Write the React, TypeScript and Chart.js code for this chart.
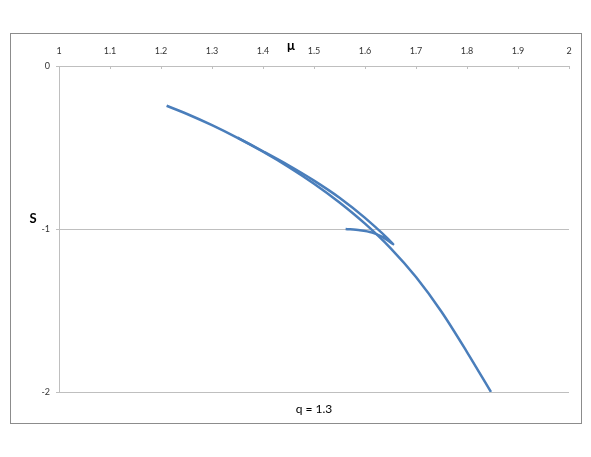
import React, { useEffect, useRef } from 'react';
import { Chart, registerables } from 'chart.js';

Chart.register(...registerables);

// ---- data ----
const muTickValues = [1, 1.1, 1.2, 1.3, 1.4, 1.5, 1.6, 1.7, 1.8, 1.9, 2];
const muTickLabels = ['1', '1.1', '1.2', '1.3', '1.4', '1.5', '1.6', '1.7', '1.8', '1.9', '2'];
const sTickValues = [-2, -1, 0];
const sTickLabels = ['-2', '-1', '0'];

// main branch: from top-left down to S = -2
const mainMu = [1.211, 1.25, 1.3, 1.35, 1.4, 1.45, 1.5, 1.55, 1.6, 1.65, 1.7, 1.75, 1.8, 1.847];
const mainS = [-0.244, -0.293, -0.363, -0.441, -0.526, -0.619, -0.722, -0.837, -0.967, -1.117, -1.295, -1.508, -1.755, -2.0];

// second branch: runs alongside, reaches the cusp and turns back
const loopMu = [1.35, 1.4, 1.45, 1.5, 1.55, 1.6, 1.655, 1.635, 1.614, 1.59, 1.562];
const loopS = [-0.44, -0.523, -0.609, -0.703, -0.808, -0.932, -1.092, -1.05, -1.022, -1.008, -1.0];

const xTitle = 'μ';
const yTitle = 'S';
const caption = 'q = 1.3';

const lineColor = '#4a7ebb';
const gridColor = '#bfbfbf';
const fontFamily = 'Lato, "Open Sans", sans-serif';

const toPoints = (xs: number[], ys: number[]) => xs.map((x, i) => ({ x, y: ys[i] }));

const framePlugin = {
  id: 'frame',
  beforeDraw(chart: any) {
    const ctx = chart.ctx;
    ctx.save();
    ctx.fillStyle = '#ffffff';
    ctx.fillRect(0, 0, chart.width, chart.height);
    ctx.strokeStyle = '#8c8c8c';
    ctx.lineWidth = 1;
    ctx.strokeRect(10.5, 33.5, 571, 390);
    ctx.restore();
  },
  afterDraw(chart: any) {
    const ctx = chart.ctx;
    const xs = chart.scales.x;
    const area = chart.chartArea;
    ctx.save();
    // inward tick marks on the top axis
    ctx.strokeStyle = gridColor;
    ctx.lineWidth = 1;
    muTickValues.forEach((v) => {
      const px = Math.round(xs.getPixelForValue(v)) + 0.5;
      ctx.beginPath();
      ctx.moveTo(px, area.top);
      ctx.lineTo(px, area.top + 3);
      ctx.stroke();
    });
    ctx.fillStyle = '#000000';
    ctx.textAlign = 'center';
    ctx.textBaseline = 'middle';
    ctx.font = `bold 13px ${fontFamily}`;
    ctx.fillText(xTitle, 291, 46);
    ctx.fillText(yTitle, 33, 219);
    ctx.font = `12px ${fontFamily}`;
    ctx.fillText(caption, (area.left + area.right) / 2, 409);
    ctx.restore();
  },
};

export default function App() {
  const ref = useRef<HTMLCanvasElement>(null);

  useEffect(() => {
    if (!ref.current) return;
    const chart = new Chart(ref.current, {
      type: 'scatter',
      data: {
        datasets: [
          {
            data: toPoints(mainMu, mainS),
            showLine: true,
            borderColor: lineColor,
            backgroundColor: lineColor,
            borderWidth: 2.5,
            pointRadius: 0,
            tension: 0.3,
          },
          {
            data: toPoints(loopMu, loopS),
            showLine: true,
            borderColor: lineColor,
            backgroundColor: lineColor,
            borderWidth: 2.5,
            pointRadius: 0,
            tension: 0.3,
          },
        ],
      },
      options: {
        animation: false,
        responsive: false,
        devicePixelRatio: 1,
        layout: { padding: { left: 0, top: 0, right: 22, bottom: 65 } },
        plugins: {
          legend: { display: false },
          tooltip: { enabled: false },
        },
        scales: {
          x: {
            type: 'linear',
            position: 'top',
            min: 1,
            max: 2,
            afterBuildTicks: (scale: any) => {
              scale.ticks = muTickValues.map((value) => ({ value }));
            },
            afterFit: (scale: any) => {
              scale.height = 66;
              scale.paddingLeft = 0;
              scale.paddingRight = 0;
            },
            ticks: {
              padding: 10,
              color: '#333333',
              font: { family: fontFamily, size: 9 },
              maxRotation: 0,
              autoSkip: false,
              callback: (v: any) => {
                const i = muTickValues.findIndex((t) => Math.abs(t - Number(v)) < 1e-9);
                return i >= 0 ? muTickLabels[i] : '';
              },
            },
            grid: { drawOnChartArea: false, drawTicks: false },
            border: { display: true, color: gridColor },
          },
          y: {
            type: 'linear',
            min: -2,
            max: 0,
            afterBuildTicks: (scale: any) => {
              scale.ticks = sTickValues.map((value) => ({ value }));
            },
            afterFit: (scale: any) => {
              scale.width = 59;
              scale.paddingTop = 0;
              scale.paddingBottom = 0;
            },
            ticks: {
              padding: 6,
              color: '#333333',
              font: { family: fontFamily, size: 9 },
              callback: (v: any) => {
                const i = sTickValues.findIndex((t) => Math.abs(t - Number(v)) < 1e-9);
                return i >= 0 ? sTickLabels[i] : '';
              },
            },
            grid: { color: gridColor, tickLength: 3, lineWidth: 1 },
            border: { display: true, color: gridColor },
          },
        },
      },
      plugins: [framePlugin],
    });
    return () => chart.destroy();
  }, []);

  return (
    <div style={{ position: 'absolute', left: 0, top: 0, width: 591, height: 457 }}>
      <canvas ref={ref} width={591} height={457} style={{ width: 591, height: 457 }} />
    </div>
  );
}
